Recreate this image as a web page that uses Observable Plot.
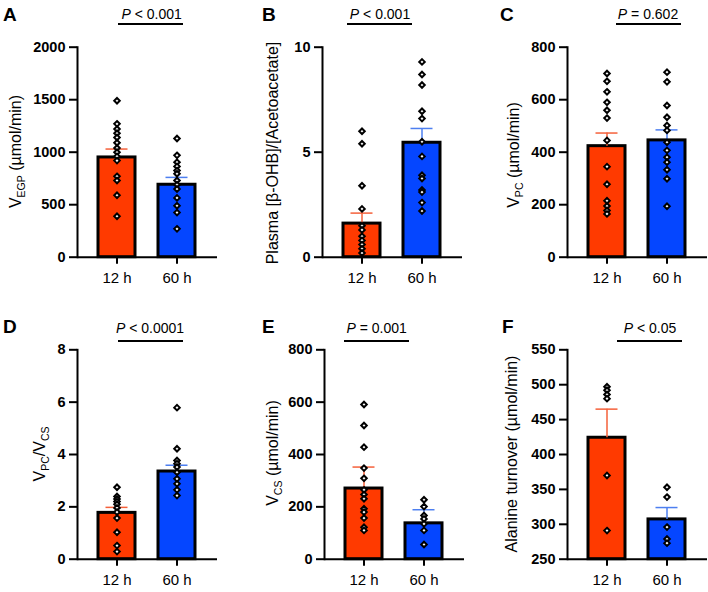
<!DOCTYPE html>
<html><head><meta charset="utf-8">
<script src="https://cdn.jsdelivr.net/npm/d3@7"></script>
<script src="https://cdn.jsdelivr.net/npm/@observablehq/plot@0.6"></script>
<style>
body{margin:0;background:#fff}
#fig{position:relative;width:708px;height:592px;overflow:hidden;font-family:"Liberation Sans",Arial,Helvetica,sans-serif}
#fig svg{position:absolute;overflow:visible}
</style></head><body><div id="fig"></div>
<script>
// ---- data ----
const groups = ["12 h", "60 h"];
const barColors = ["#ff3a00", "#0546ff"];
const errColors = ["#f5603a", "#4d7ff0"];

const egp12 = [1490, 1270, 1220, 1180, 1140, 1090, 1040, 1000, 960, 920, 770, 730, 590, 390];
const egp60 = [1130, 970, 905, 865, 825, 795, 730, 690, 650, 565, 490, 425, 270];
const egpMean = [950, 690];
const egpSem = [80, 70];
const egpTicks = [0, 500, 1000, 1500, 2000];

const ratio12 = [6.0, 5.4, 3.4, 2.3, 1.5, 1.3, 1.0, 0.8, 0.6, 0.4, 0.2];
const ratio60 = [9.3, 8.7, 8.2, 6.95, 6.6, 5.5, 4.8, 3.9, 3.75, 3.2, 3.1, 2.6, 2.2];
const ratioMean = [1.6, 5.45];
const ratioSem = [0.5, 0.68];
const ratioTicks = [0, 5, 10];

const pc12 = [700, 670, 630, 590, 560, 530, 445, 345, 278, 215, 195, 178, 165];
const pc60 = [705, 668, 578, 533, 502, 483, 438, 407, 381, 362, 333, 299, 194];
const pcMean = [423, 445];
const pcSem = [50, 40];
const pcTicks = [0, 200, 400, 600, 800];

const pccs12 = [2.75, 2.4, 2.3, 2.2, 2.1, 1.96, 1.8, 1.57, 1.03, 0.52, 0.29];
const pccs60 = [5.79, 4.22, 3.77, 3.65, 3.52, 3.32, 3.07, 2.88, 2.65, 2.43];
const pccsMean = [1.77, 3.35];
const pccsSem = [0.21, 0.24];
const pccsTicks = [0, 2, 4, 6, 8];

const cs12 = [591, 511, 428, 348, 309, 265, 247, 231, 193, 180, 157, 122, 110];
const cs60 = [227, 201, 167, 154, 135, 110, 56];
const csMean = [270, 137];
const csSem = [82, 52];
const csTicks = [0, 200, 400, 600, 800];

const ala12 = [497, 492, 486, 480, 370, 291];
const ala60 = [353, 339, 296, 279, 273];
const alaMean = [424, 307];
const alaSem = [41, 17];
const alaTicks = [250, 300, 350, 400, 450, 500, 550];

// ---- layout ----
const FONT = '"Liberation Sans", Arial, Helvetica, sans-serif';
const panels = [
  {letter: "A", left: 0, top: 0, axis: 77, pts: [egp12, egp60], mean: egpMean, sem: egpSem, ticks: egpTicks,
   label: [["V"], ["EGP", 1], [" (\u00b5mol/min)"]], lab: [21, 151.5], p: ["P", " < 0.001"], pc: 151.7, line: [118, 183], lx: 3},
  {letter: "B", left: 236, top: 0, axis: 322, pts: [ratio12, ratio60], mean: ratioMean, sem: ratioSem, ticks: ratioTicks,
   label: [["Plasma [\u03b2-OHB]/[Acetoacetate]"]], lab: [278, 153], p: ["P", " < 0.001"], pc: 380, line: [347, 412], lx: 262},
  {letter: "C", left: 472, top: 0, axis: 567, pts: [pc12, pc60], mean: pcMean, sem: pcSem, ticks: pcTicks,
   label: [["V"], ["PC", 1], [" (\u00b5mol/min)"]], lab: [519, 155], p: ["P", " = 0.602"], pc: 648, line: [616, 681], lx: 500},
  {letter: "D", left: 0, top: 296, axis: 77, pts: [pccs12, pccs60], mean: pccsMean, sem: pccsSem, ticks: pccsTicks,
   label: [["V"], ["PC", 1], ["/V"], ["CS", 1]], lab: [45, 454], p: ["P", " < 0.0001"], pc: 150, line: [118, 183], lx: 3},
  {letter: "E", left: 236, top: 296, axis: 324, pts: [cs12, cs60], mean: csMean, sem: csSem, ticks: csTicks,
   label: [["V"], ["CS", 1], [" (\u00b5mol/min)"]], lab: [278, 453], p: ["P", " = 0.001"], pc: 376.7, line: [344, 409], lx: 262},
  {letter: "F", left: 472, top: 296, axis: 567, pts: [ala12, ala60], mean: alaMean, sem: alaSem, ticks: alaTicks,
   label: [["Alanine turnover (\u00b5mol/min)"]], lab: [516.5, 454], p: ["P", " < 0.05"], pc: 650, line: [617, 682], lx: 502}
];

const fig = document.getElementById("fig");

for (const cfg of panels) {
  const row = cfg.top === 0 ? 0 : 1;
  const W = 236, H = 296, plotW = 140;
  const mL = cfg.axis - cfg.left;
  const mT = row === 0 ? 46.7 : 53.3;
  const mB = row === 0 ? H - 256.7 : H - 262.7;
  const dom = [cfg.ticks[0], cfg.ticks[cfg.ticks.length - 1]];
  const bars = groups.map((g, i) => ({group: g, i, mean: cfg.mean[i], top: cfg.mean[i] + cfg.sem[i]}));
  const dots = groups.flatMap((g, i) => cfg.pts[i].map(v => ({group: g, value: v})));

  const svg = Plot.plot({
    width: W, height: H,
    marginLeft: mL, marginRight: W - mL - plotW, marginTop: mT, marginBottom: mB,
    style: {fontFamily: FONT, fontSize: "15px", color: "#000", background: "transparent", overflow: "visible"},
    x: {domain: groups, paddingInner: 0.383, paddingOuter: 0.358},
    y: {domain: dom},
    marks: [
      Plot.barY(bars, {x: "group", y1: dom[0], y2: "mean", fill: d => barColors[d.i], stroke: "#000", strokeWidth: 3}),
      Plot.ruleX(bars, {x: "group", y1: "mean", y2: "top", stroke: d => errColors[d.i], strokeWidth: 1.5}),
      Plot.tickY(bars, {x: "group", y: "top", stroke: d => errColors[d.i], strokeWidth: 1.5, insetLeft: 7.5, insetRight: 7.5}),
      Plot.dot(dots, {x: "group", y: "value", symbol: "diamond2", r: 2.5, fill: "#fff", stroke: "#000", strokeWidth: 2}),
      Plot.axisY(cfg.ticks, {tickSize: 8, tickPadding: 4, strokeWidth: 2, fontWeight: "bold", fontSize: 14.5, tickFormat: d => String(d), label: null}),
      Plot.axisX({tickSize: 7, tickPadding: 8, strokeWidth: 2, fontSize: 15, label: null}),
      Plot.ruleY([dom[0]], {strokeWidth: 2}),
      Plot.frame({anchor: "left", strokeWidth: 2})
    ]
  });
  svg.style.left = cfg.left + "px";
  svg.style.top = cfg.top + "px";
  fig.appendChild(svg);

  // annotations (panel letter, significance, y-axis title with subscripts)
  const s = d3.select(svg);
  const ox = cfg.left, oy = cfg.top;
  const base = row === 0 ? 20.7 : 332.7;
  s.append("text").attr("x", cfg.lx - ox).attr("y", base - oy).attr("text-anchor", "start")
    .attr("font-family", FONT).attr("font-weight", 900).attr("font-size", 19).attr("fill", "#000").text(cfg.letter);
  const pt = s.append("text").attr("x", cfg.pc - ox).attr("y", (row === 0 ? 19 : 332.7) - oy)
    .attr("text-anchor", "middle").attr("font-family", FONT).attr("font-size", 14).attr("fill", "#000");
  pt.append("tspan").attr("font-style", "italic").text(cfg.p[0]);
  pt.append("tspan").text(cfg.p[1]);
  const ly = (row === 0 ? 24 : 341) - oy;
  s.append("line").attr("x1", cfg.line[0] - ox).attr("x2", cfg.line[1] - ox).attr("y1", ly).attr("y2", ly)
    .attr("stroke", "#000").attr("stroke-width", 2);
  const yl = s.append("text").attr("transform", `translate(${cfg.lab[0] - ox},${cfg.lab[1] - oy}) rotate(-90)`)
    .attr("text-anchor", "middle").attr("font-family", FONT).attr("font-size", 16).attr("fill", "#000");
  let shifted = false;
  for (const [t, sub] of cfg.label) {
    const ts = yl.append("tspan").text(t);
    if (sub && !shifted) { ts.attr("dy", 4).attr("font-size", 10.5); shifted = true; }
    else if (sub) { ts.attr("font-size", 10.5); }
    else if (!sub && shifted) { ts.attr("dy", -4); shifted = false; }
  }
}
</script>
</body></html>
